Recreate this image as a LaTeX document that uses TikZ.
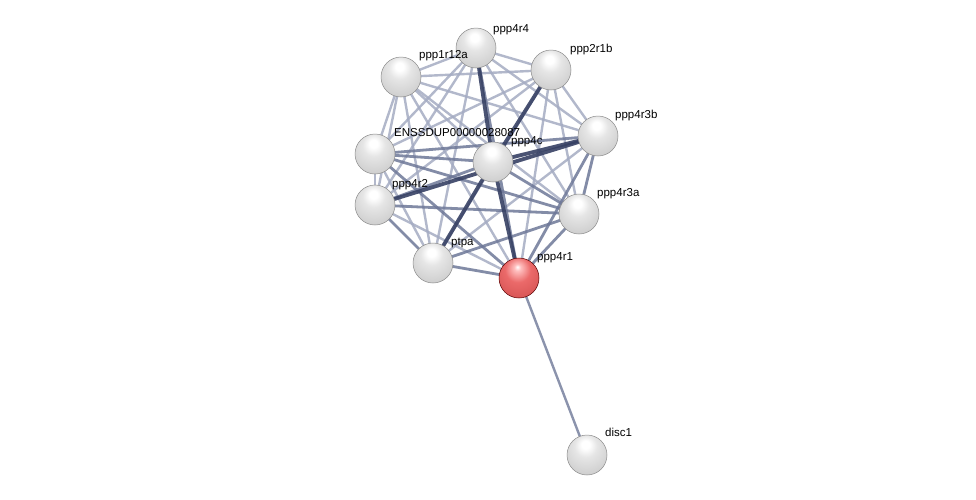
\documentclass[tikz,border=0pt]{standalone}
\usepackage{fontspec}
\setmainfont{Liberation Sans}
\pgfdeclareradialshading{greyball}{\pgfpoint{-2bp}{14bp}}{color(0bp)=(white); color(5bp)=(white); color(14bp)=(black!10); color(30bp)=(black!18); color(44bp)=(black!30); color(54bp)=(black!45); color(60bp)=(black!38); color(66bp)=(black!30)}
\pgfdeclareradialshading{redball}{\pgfpoint{-2bp}{14bp}}{color(0bp)=(white); color(4bp)=(red!25!white); color(16bp)=(red!55!white!92!black); color(32bp)=(red!60!white!85!black); color(46bp)=(red!65!white!72!black); color(55bp)=(red!70!black); color(66bp)=(red!60!black!80!white)}
\definecolor{elight}{RGB}{165,172,195}
\definecolor{emed}{RGB}{110,120,152}
\definecolor{edark}{RGB}{55,65,100}
\begin{document}
\begin{tikzpicture}[x=1pt,y=-1pt,
  prot/.style={circle,minimum size=40pt,inner sep=0pt,shading=greyball,draw=black!45,line width=0.5pt},
  query/.style={circle,minimum size=40pt,inner sep=0pt,shading=redball,draw=red!35!black,line width=0.5pt},
  lbl/.style={font=\fontsize{11.5}{13}\selectfont,text=black,inner sep=0pt,anchor=base west},
  e1/.style={draw=elight,line width=2.4pt,opacity=0.85},
  e2/.style={draw=emed,line width=2.8pt,opacity=0.85},
  e3/.style={draw=edark,line width=3.8pt,opacity=0.9}]
\useasboundingbox (0,0) rectangle (976,499);
\fill[white] (0,0) rectangle (976,499);
\coordinate (c1) at (476,48);
\coordinate (c2) at (551,70);
\coordinate (c3) at (401,77);
\coordinate (c4) at (598,136);
\coordinate (c5) at (375,154);
\coordinate (c6) at (493,162);
\coordinate (c7) at (375,205);
\coordinate (c8) at (579,214);
\coordinate (c9) at (433,263);
\coordinate (c10) at (519,278);
\coordinate (c11) at (587,455);
% edges
\foreach \a/\b in {c1/c2,c1/c3,c1/c4,c1/c5,c1/c7,c1/c9,
  c2/c3,c2/c4,c2/c5,c2/c7,c2/c9,
  c3/c4,c3/c5,c3/c6,c3/c7,c3/c8,c3/c9,c3/c10,
  c5/c7,c5/c9,
  c7/c10,c1/c8,c2/c8,c2/c10,c4/c9}
  \draw[e1] (\a) -- (\b);
\foreach \a/\b in {c1/c10,c5/c8,c5/c10,c6/c7,c5/c6,c7/c8,c8/c9,c9/c10,c8/c10,c7/c9,c4/c8,c4/c10,c6/c8,c4/c5}
  \draw[e2] (\a) -- (\b);
\foreach \a/\b in {c1/c6,c2/c6,c6/c9,c6/c10,c6/c4,c4/c7}
  \draw[e3] (\a) -- (\b);
\draw[draw=emed,line width=2.4pt,opacity=0.8] (c10) -- (c11);
% nodes
\node[prot] (n1) at (c1) {};
\node[prot] (n2) at (c2) {};
\node[prot] (n3) at (c3) {};
\node[prot] (n4) at (c4) {};
\node[prot] (n5) at (c5) {};
\node[prot] (n6) at (c6) {};
\node[prot] (n7) at (c7) {};
\node[prot] (n8) at (c8) {};
\node[prot] (n9) at (c9) {};
\node[query] (n10) at (c10) {};
\node[prot] (n11) at (c11) {};
% labels
\node[lbl] (l1) at (493,32) {ppp4r4};
\node[lbl] (l2) at (570,52) {ppp2r1b};
\node[lbl] (l3) at (419,58) {ppp1r12a};
\node[lbl] (l4) at (615,118) {ppp4r3b};
\node[lbl] (l5) at (394,136) {ENSSDUP00000028087};
\node[lbl] (l6) at (511,144) {ppp4c};
\node[lbl] (l7) at (392,187) {ppp4r2};
\node[lbl] (l8) at (597,196) {ppp4r3a};
\node[lbl] (l9) at (451,245) {ptpa};
\node[lbl] (l10) at (537,260) {ppp4r1};
\node[lbl] (l11) at (605,436) {disc1};
\end{tikzpicture}
\end{document}
